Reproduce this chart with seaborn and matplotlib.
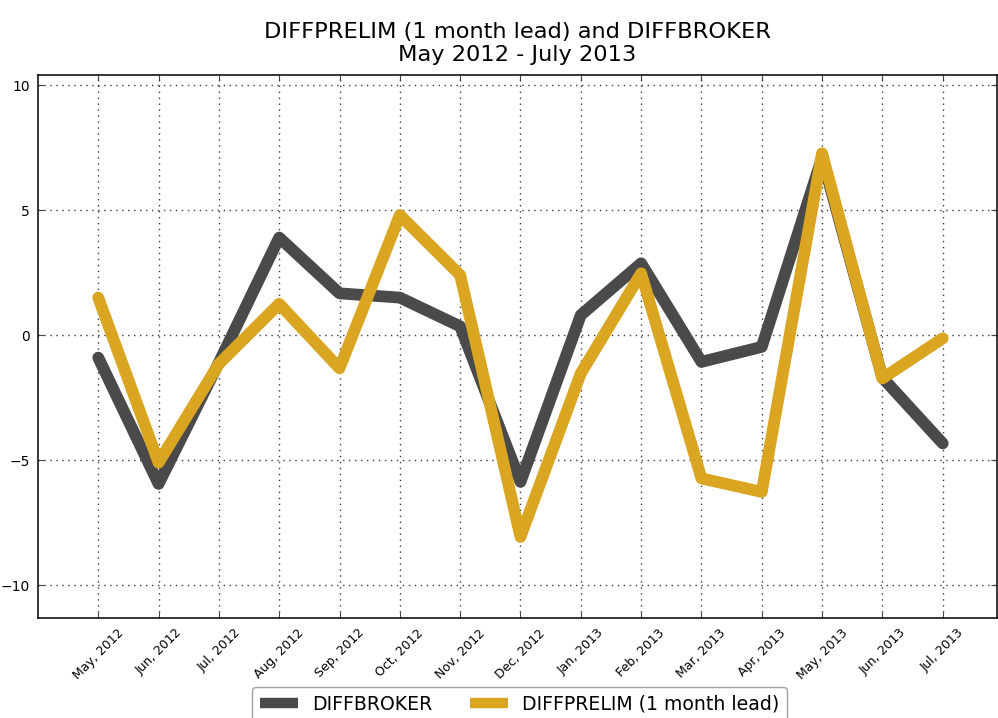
import matplotlib
matplotlib.use("Agg")
import matplotlib.pyplot as plt
import seaborn as sns
import pandas as pd

months = ["May, 2012", "Jun, 2012", "Jul, 2012", "Aug, 2012", "Sep, 2012",
          "Oct, 2012", "Nov, 2012", "Dec, 2012", "Jan, 2013", "Feb, 2013",
          "Mar, 2013", "Apr, 2013", "May, 2013", "Jun, 2013", "Jul, 2013"]
diffbroker = [-0.9, -5.95, -1.1, 3.9, 1.67, 1.5, 0.35, -5.87, 0.8, 2.87,
              -1.07, -0.47, 7.1, -1.7, -4.33]
diffprelim = [1.5, -5.1, -1.15, 1.25, -1.33, 4.8, 2.4, -8.07, -1.53, 2.47,
              -5.73, -6.27, 7.27, -1.73, -0.13]
series_names = ["DIFFBROKER", "DIFFPRELIM (1 month lead)"]
colors = ["#4a4a4a", "#DAA520"]

df = pd.DataFrame({
    "pos": list(range(len(months))) * 2,
    "value": diffbroker + diffprelim,
    "series": [series_names[0]] * len(months) + [series_names[1]] * len(months),
})

sns.set_style("white")
plt.rcParams['font.family'] = ['DejaVu Sans']
plt.rcParams['text.color'] = 'black'
plt.rcParams['axes.labelcolor'] = 'black'
plt.rcParams['xtick.color'] = 'black'
plt.rcParams['ytick.color'] = 'black'

fig = plt.figure(figsize=(9.98, 7.18), dpi=100)
ax = fig.add_axes([0.038, 0.139, 0.961, 0.7565])

sns.lineplot(data=df, x="pos", y="value", hue="series", palette=colors,
             linewidth=8.5, ax=ax, legend=True)

ax.set_xlim(-1, 14.9)
ax.set_ylim(-11.32, 10.4)
ax.set_xticks(range(len(months)))
ax.set_xticklabels(months, rotation=45, ha="center", fontsize=9)
ax.set_yticks([-10, -5, 0, 5, 10])
ax.set_yticklabels(["\u221210", "\u22125", "0", "5", "10"], fontsize=10)
ax.set_xlabel("")
ax.set_ylabel("")
ax.grid(True, color="#3a3a3a", linestyle=(0, (1, 3.3)), linewidth=1.0)
ax.tick_params(direction="in", length=4, width=0.8, color="#444444",
               bottom=True, left=True, top=True, right=True, pad=6,
               labelcolor="black")
for s in ax.spines.values():
    s.set_color("black")
    s.set_linewidth(1.1)

ax.set_title("DIFFPRELIM (1 month lead) and DIFFBROKER\nMay 2012 - July 2013",
             fontsize=16.2, pad=10, color="black")

handles, labels = ax.get_legend_handles_labels()
leg = ax.legend(handles, labels, loc="upper center", bbox_to_anchor=(0.502, -0.127),
                ncol=2, fontsize=13.6, frameon=True, handlelength=2.0,
                handletextpad=0.75, columnspacing=2.0, borderaxespad=0,
                fancybox=True)
leg.get_frame().set_edgecolor("#888888")
leg.get_frame().set_linewidth(1.0)
for line in leg.get_lines():
    line.set_linewidth(7.5)
    line.set_solid_capstyle("butt")

fig.savefig("out.png", dpi=100)
